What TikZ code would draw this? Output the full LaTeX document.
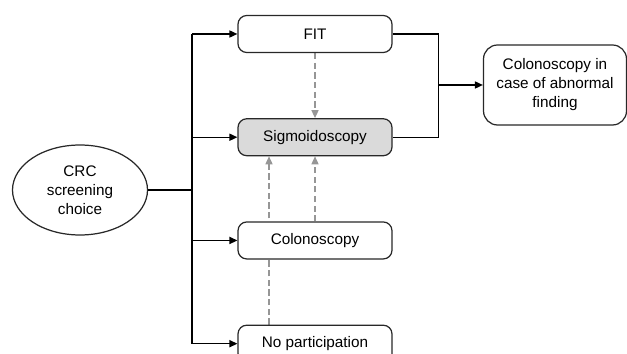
\documentclass[tikz,border=0pt]{standalone}
\usepackage{fontspec}
\setmainfont{Liberation Sans}
\usetikzlibrary{positioning,shapes.geometric,arrows.meta,calc,backgrounds}

\definecolor{sigfill}{RGB}{218,218,218}
\definecolor{dashgray}{RGB}{150,150,150}
\definecolor{linegray}{RGB}{40,40,40}

\tikzset{
  choice/.style={draw=linegray, line width=0.7pt, rounded corners=5pt, fill=white,
    minimum width=3.08cm, minimum height=0.74cm, inner sep=0pt,
    font=\fontsize{8.7}{10.8}\selectfont},
  outcome/.style={choice, rounded corners=8pt, minimum width=2.86cm,
    minimum height=1.6cm, align=center},
  start/.style={ellipse, draw=linegray, line width=0.7pt, minimum width=2.7cm,
    minimum height=1.8cm, inner sep=0pt, align=center,
    font=\fontsize{8.7}{10.8}\selectfont},
  flow/.style={draw=black, line width=0.8pt},
  switch/.style={draw=dashgray, line width=0.7pt, dash pattern=on 3.5pt off 2pt,
    -{Triangle[length=4.5pt,width=4pt]}},
  >={Triangle[length=4.5pt,width=4pt]}
}

\begin{document}
\begin{tikzpicture}
  \useasboundingbox (0,0) rectangle (12.54,-7.08);

  % screening options
  \node[choice] (fit) at (6.3,-0.68) {FIT};
  \node[choice, fill=sigfill, below=1.3cm of fit] (sig) {Sigmoidoscopy};
  \node[choice, below=1.3cm of sig] (col) {Colonoscopy};
  \node[choice, below=1.3cm of col] (none) {No participation};

  \node[start] (crc) at (1.6,-3.8) {CRC\\screening\\choice};
  \node[outcome] (fup) at (11.1,-1.7) {Colonoscopy in\\case of abnormal\\finding};

  % branching from the choice
  \coordinate (trunk) at (3.84,0 |- crc.east);
  \draw[flow] (crc.east) -- (trunk);
  \draw[flow] (trunk |- fit) -- (trunk |- none);
  \foreach \n in {fit, sig, col, none}
    \draw[flow, ->] (trunk |- \n) -- (\n.west);

  % follow-up after positive test
  \coordinate (join) at ($(fit.east)+(0.92,0)$);
  \draw[flow] (fit.east) -- (join) -- (join |- sig) -- (sig.east);
  \draw[flow, ->] (join |- fup) -- (fup.west);

  % switching to sigmoidoscopy
  \begin{scope}[on background layer]
    \draw[switch] (fit.south) -- (sig.north);
    \draw[switch] (col.north) -- (sig.south);
    \draw[switch] ($(none.north)+(-0.92,0)$) -- ($(sig.south)+(-0.92,0)$);
  \end{scope}
\end{tikzpicture}
\end{document}
